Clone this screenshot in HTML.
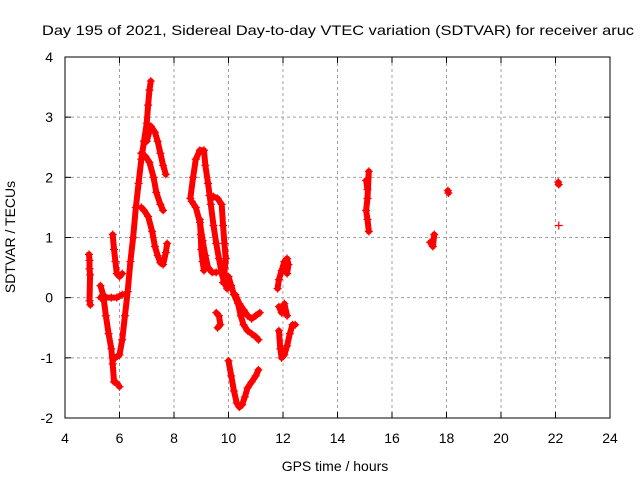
<!DOCTYPE html>
<html><head><meta charset="utf-8"><style>
body{margin:0;background:#fff;}
svg{display:block;font-family:"Liberation Sans",sans-serif;}
</style></head><body>
<svg id="chart" width="640" height="480">
<text x="42" y="35" font-size="14" textLength="592" lengthAdjust="spacingAndGlyphs">Day 195 of 2021, Sidereal Day-to-day VTEC variation (SDTVAR) for receiver aruc</text>
<g id="grid"></g>
<g id="ticks"></g>
<g id="marks"></g>
<rect x="65" y="57" width="545" height="361" fill="none" stroke="#000" stroke-width="1"/>
<text x="15" y="237" font-size="14" text-anchor="middle" transform="rotate(-90 15 237)">SDTVAR / TECUs</text>
<text x="335" y="471" font-size="14" text-anchor="middle">GPS time / hours</text>
</svg>
<script>
const xTicks=[4,6,8,10,12,14,16,18,20,22,24];
const yTicks=[-2,-1,0,1,2,3,4];
const tracks=[
[[4.88,0.72],[4.9,0.62],[4.9,0.48],[4.92,0.38],[4.9,-0.05],[4.93,-0.12]],
[[5.3,0.2],[5.4,0.05],[5.5,-0.3],[5.6,-0.6],[5.7,-0.85],[5.75,-1.1],[5.8,-1.4],[5.9,-1.42],[6.0,-1.48]],
[[5.3,0.0],[5.5,0.0],[5.7,0.0],[5.9,0.0],[6.1,0.05]],
[[5.75,1.05],[5.8,0.8],[5.85,0.6],[5.9,0.4],[6.0,0.35],[6.1,0.4]],
[[5.85,-1.0],[6.0,-0.95],[6.1,-0.7],[6.2,-0.3],[6.3,0.1],[6.4,0.6],[6.5,1.0],[6.6,1.5],[6.7,1.9],[6.8,2.3],[6.9,2.6],[7.0,2.9],[7.05,3.2],[7.1,3.45],[7.15,3.6]],
[[7.0,2.6],[7.15,2.85],[7.3,2.75],[7.4,2.6],[7.5,2.4],[7.6,2.2],[7.7,2.05]],
[[6.8,2.4],[6.95,2.35],[7.1,2.25],[7.25,2.0],[7.35,1.75],[7.5,1.55],[7.6,1.45]],
[[6.8,1.5],[6.9,1.45],[7.05,1.35],[7.2,1.1],[7.3,0.85],[7.4,0.7],[7.5,0.58],[7.6,0.55],[7.7,0.75],[7.75,0.9]],
[[8.6,1.65],[8.7,2.0],[8.8,2.3],[8.95,2.45],[9.1,2.45],[9.15,2.2],[9.25,1.9],[9.35,1.55],[9.45,1.2],[9.55,0.9],[9.65,0.65],[9.75,0.4],[9.85,0.25],[9.95,0.15]],
[[8.65,1.6],[8.8,1.5],[8.95,1.25],[9.05,0.95],[9.15,0.7],[9.25,0.5],[9.4,0.42],[9.55,0.42]],
[[8.95,1.3],[8.98,1.05],[9.0,0.8],[9.05,0.6],[9.1,0.45]],
[[9.3,1.7],[9.45,1.68],[9.6,1.65],[9.75,1.55],[9.8,1.2],[9.85,0.9],[9.9,0.65],[9.85,0.4],[9.8,0.25]],
[[9.55,-0.25],[9.65,-0.3],[9.7,-0.45],[9.6,-0.5]],
[[10.0,0.35],[10.1,0.2],[10.2,0.05],[10.35,-0.1],[10.45,-0.3],[10.55,-0.45],[10.7,-0.55],[10.85,-0.6],[11.0,-0.65],[11.1,-0.7]],
[[10.25,0.05],[10.4,-0.1],[10.55,-0.2],[10.7,-0.3],[10.85,-0.35],[11.0,-0.3],[11.15,-0.25]],
[[10.0,-1.05],[10.1,-1.3],[10.2,-1.55],[10.3,-1.75],[10.4,-1.82],[10.5,-1.78],[10.6,-1.65],[10.7,-1.5],[10.85,-1.4],[11.0,-1.3],[11.1,-1.2]],
[[11.8,0.15],[11.85,0.3],[11.95,0.45],[12.05,0.6],[12.15,0.65],[12.2,0.55],[12.15,0.4]],
[[11.85,-0.15],[11.95,-0.25],[12.05,-0.1],[12.15,-0.3]],
[[11.85,-0.55],[11.9,-0.85],[11.95,-1.0],[12.05,-0.95],[12.15,-0.8],[12.25,-0.6],[12.35,-0.45],[12.45,-0.45]],
[[15.05,1.95],[15.1,1.8],[15.15,2.1],[15.1,1.65],[15.05,1.45],[15.1,1.3],[15.15,1.1]],
[[17.4,0.92],[17.5,0.85],[17.55,1.05]],
[[18.05,1.78],[18.07,1.74]],
[[22.1,1.92],[22.12,1.88]],
[[22.12,1.2]]
];
const X=v=>65+(v-4)*545/20, Y=v=>418-(v+2)*361/6;
const NS='http://www.w3.org/2000/svg';
const g=document.getElementById('grid'),t=document.getElementById('ticks'),m=document.getElementById('marks');
function el(p,n,a){const e=document.createElementNS(NS,n);for(const k in a)e.setAttribute(k,a[k]);p.appendChild(e);return e;}
xTicks.forEach(v=>{const x=X(v);
 if(v>4&&v<24){const l=el(g,'line',{x1:x,x2:x,y1:57,y2:418,stroke:'#a0a0a0','stroke-dasharray':'3,3'});}
 el(t,'line',{x1:x,x2:x,y1:418,y2:412,stroke:'#000'});el(t,'line',{x1:x,x2:x,y1:57,y2:63,stroke:'#000'});
 const tx=el(t,'text',{x:x,y:443,'font-size':14,'text-anchor':'middle'});tx.textContent=v;
 });
yTicks.forEach(v=>{const y=Y(v);
 if(v>-2&&v<4){const l=el(g,'line',{x1:65,x2:610,y1:y,y2:y,stroke:'#a0a0a0','stroke-dasharray':'3,3'});}
 el(t,'line',{x1:65,x2:71,y1:y,y2:y,stroke:'#000'});el(t,'line',{x1:610,x2:604,y1:y,y2:y,stroke:'#000'});
 const tx=el(t,'text',{x:53,y:y+5,'font-size':14,'text-anchor':'end'});tx.textContent=v;
 });
tracks.forEach(tr=>{
 if(tr.length>1){const pl=el(m,'polyline',{points:tr.map(p=>X(p[0])+','+Y(p[1])).join(' '),fill:'none',stroke:'#f00','stroke-width':6,'stroke-linejoin':'round','stroke-linecap':'round'});
 }
 tr.forEach(p=>{const x=X(p[0]),y=Y(p[1]);
  const pt=el(m,'path',{d:`M${x-4},${y}h8M${x},${y-4}v8`,stroke:'#f00','stroke-width':1.2});
  });
});
</script>
</body></html>
